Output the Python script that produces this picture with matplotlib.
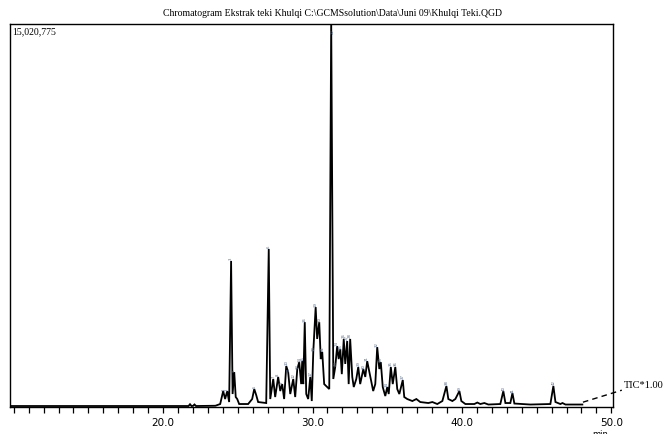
import matplotlib
matplotlib.use("Agg")
import matplotlib.pyplot as plt
from matplotlib.ticker import MultipleLocator

# retention time (min) and intensity (counts)
rt = [9.75, 10.0, 21.7, 21.8, 21.9, 22.0, 22.1, 22.2, 23.5, 23.82, 24.02, 24.15, 24.29, 24.42,
      24.55, 24.65, 24.76, 24.86, 24.96, 25.09, 25.69, 25.96, 26.10, 26.23, 26.36, 26.90,
      27.07, 27.17, 27.37, 27.50, 27.70, 27.84, 27.97, 28.10, 28.24, 28.37, 28.51, 28.71,
      28.84, 28.98, 29.11, 29.24, 29.31, 29.38, 29.48, 29.58, 29.71, 29.85, 29.95, 30.05,
      30.21, 30.31, 30.45, 30.55, 30.65, 30.78, 30.98, 31.12, 31.25, 31.39, 31.52, 31.65,
      31.75, 31.86, 31.96, 32.09, 32.19, 32.32, 32.42, 32.52, 32.66, 32.76, 32.93, 33.06,
      33.19, 33.40, 33.53, 33.66, 33.86, 34.06, 34.20, 34.33, 34.47, 34.57, 34.70, 34.87,
      35.00, 35.10, 35.24, 35.37, 35.54, 35.67, 35.81, 36.04, 36.14, 36.34, 36.68, 36.95,
      37.21, 37.75, 38.02, 38.35, 38.69, 38.96, 39.09, 39.36, 39.56, 39.83, 39.96, 40.23,
      40.83, 41.03, 41.23, 41.50, 41.77, 42.57, 42.77, 42.91, 43.24, 43.38, 43.51, 44.58,
      45.92, 46.12, 46.26, 46.59, 46.73, 46.93, 48.06]
tic = [40e3, 40e3, 40e3, 110e3, 40e3, 45e3, 100e3, 40e3, 50e3, 118e3, 627e3, 314e3, 627e3, 196e3,
       5.73e6, 510e3, 1.37e6, 392e3, 314e3, 118e3, 118e3, 314e3, 706e3, 470e3, 196e3, 157e3,
       6.2e6, 314e3, 1.10e6, 392e3, 1.18e6, 627e3, 900e3, 314e3, 1.61e6, 1.37e6, 510e3, 1.10e6,
       392e3, 1.49e6, 1.76e6, 900e3, 1.80e6, 900e3, 3.33e6, 510e3, 314e3, 1.18e6, 235e3, 2.16e6,
       3.92e6, 2.67e6, 3.33e6, 1.88e6, 2.16e6, 900e3, 784e3, 706e3, 15.2e6, 1.10e6, 1.57e6, 2.39e6,
       1.88e6, 2.27e6, 1.29e6, 2.67e6, 1.69e6, 2.59e6, 900e3, 2.67e6, 1.18e6, 784e3, 1.10e6, 1.57e6,
       900e3, 1.49e6, 1.18e6, 1.80e6, 1.22e6, 627e3, 900e3, 2.35e6, 1.49e6, 1.76e6, 784e3, 431e3,
       784e3, 510e3, 1.57e6, 900e3, 1.57e6, 706e3, 510e3, 1.06e6, 392e3, 314e3, 235e3, 314e3,
       196e3, 157e3, 196e3, 118e3, 235e3, 824e3, 314e3, 235e3, 314e3, 627e3, 235e3, 118e3,
       118e3, 176e3, 118e3, 157e3, 98e3, 118e3, 627e3, 157e3, 157e3, 549e3, 137e3, 98e3,
       118e3, 824e3, 196e3, 118e3, 157e3, 98e3, 98e3]

# labelled peaks (apex retention times)
peak_rt = [24.02, 24.29, 24.55, 24.76, 26.10, 27.07, 27.37, 27.70, 27.97, 28.24, 28.37, 28.71,
           28.98, 29.11, 29.31, 29.48, 29.85, 30.05, 30.21, 30.45, 30.65, 31.25, 31.52, 31.65,
           31.86, 32.09, 32.32, 32.52, 33.06, 33.40, 33.66, 34.33, 34.57, 35.00, 35.24, 35.54,
           36.04, 38.96, 39.83, 42.77, 43.38, 46.12]

full_scale = 15020775

fig = plt.figure(figsize=(6.65, 4.35), dpi=100)
ax = fig.add_axes([0.015, 0.062, 0.907, 0.8805])

ax.plot(rt, tic, color="black", lw=1.3, solid_joinstyle="miter")

for i, p in enumerate(peak_rt):
    k = rt.index(p)
    y = min(tic[k], full_scale * 0.985)
    ax.text(p + 0.12 if p == 31.25 else p, y + 60e3, str(i + 1), fontsize=2.8, rotation=90,
            ha="center", va="top" if p == 31.25 else "bottom", color="#5a6e8c", family="DejaVu Sans")

ax.set_xlim(9.75, 50.12)
ax.set_ylim(0, full_scale)

ax.xaxis.set_major_locator(MultipleLocator(10))
ax.xaxis.set_minor_locator(MultipleLocator(1))
ax.xaxis.set_major_formatter(plt.FuncFormatter(lambda v, pos: f"{v:.1f}" if v >= 20 else ""))
ax.tick_params(axis="x", which="both", direction="out", length=4, width=0.9, labelsize=7.5,
               colors="black", pad=3)
ax.tick_params(axis="y", left=False, labelleft=False)
for s in ax.spines.values():
    s.set_linewidth(1.0)

ax.text(0.004, 0.995, f"{full_scale:,}", transform=ax.transAxes, ha="left", va="top",
        fontsize=7, family="Liberation Serif")

fig.text(0.5, 0.97, r"Chromatogram Ekstrak teki Khulqi C:\GCMSsolution\Data\Juni 09\Khulqi Teki.QGD",
         ha="center", va="center", fontsize=7, family="Liberation Serif")

# TIC leader and label
ax.plot([48.1, 50.7], [190e3, 660e3], color="black", lw=1.0, ls=(0, (4, 3)), clip_on=False)
ax.text(50.85, 900e3, "TIC*1.00", fontsize=7.5, family="Liberation Serif", ha="left", va="center",
        clip_on=False)
fig.text(0.902, 0.0, "min", fontsize=6, ha="center", va="center")

fig.savefig("out.png", dpi=100)
